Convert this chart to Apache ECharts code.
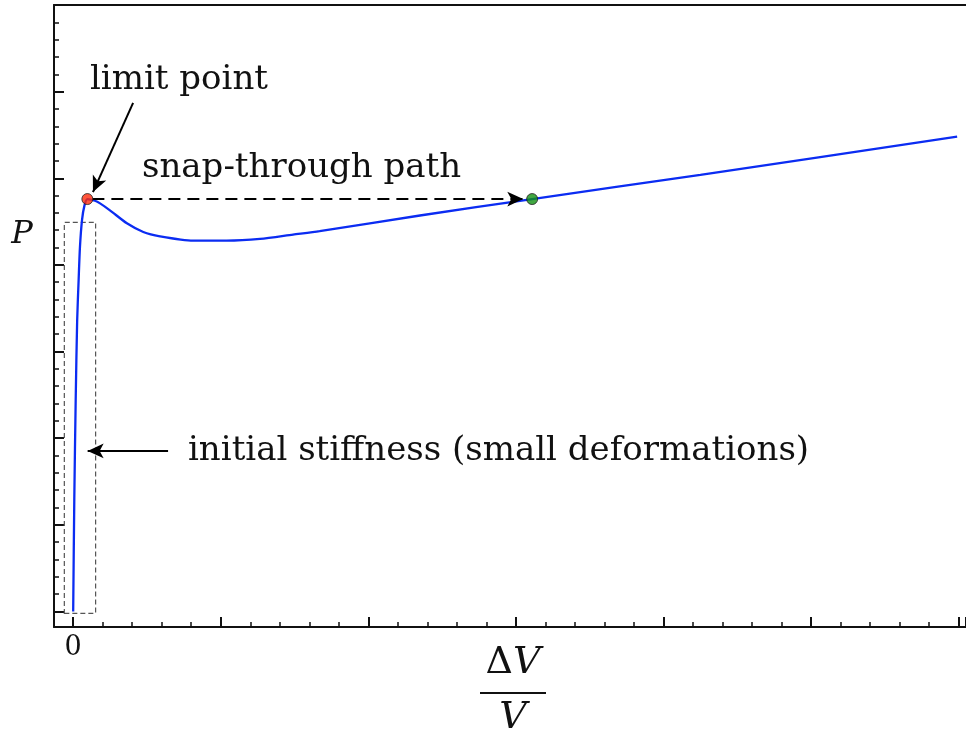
<!DOCTYPE html>
<html>
<head>
<meta charset="utf-8">
<script src="https://cdn.jsdelivr.net/npm/echarts@6/dist/echarts.min.js"></script>
<style>
  html, body { margin: 0; padding: 0; background: #ffffff; }
  #chart { width: 966px; height: 731px; }
</style>
</head>
<body>
<div id="chart"></div>
<script>
// Load P against volumetric strain ΔV/V for a structure that snaps through.
const strainValues = [0, 0.0075, 0.017, 0.027, 0.037, 0.046, 0.060, 0.077, 0.096,
  0.148, 0.182, 0.249, 0.364, 0.475, 0.588, 0.813, 1.04, 1.266, 1.49, 1.67,
  2.35, 3.11, 4.25, 5.99];
const loadValues = [0, 1.29, 2.44, 3.36, 3.83, 4.21, 4.52, 4.69, 4.76,
  4.74, 4.71, 4.63, 4.48, 4.38, 4.33, 4.28, 4.28, 4.30, 4.35, 4.39,
  4.57, 4.76, 5.04, 5.48];

// Limit point and the point the structure jumps to
const limitPoint = [0.096, 4.76];
const snapTarget = [3.11, 4.76];

// Annotation anchors (data coordinates)
const limitArrow = [[0.406, 5.87], [0.134, 4.84]];
const snapArrow = [[0.13, 4.76], [3.05, 4.76]];
const stiffnessArrow = [[0.643, 1.853], [0.098, 1.853]];
const smallDeformationBox = [[-0.060, -0.022], [0.152, 4.49]];

// Tick labels on the strain axis
const xTickValues = [0];
const xTickTexts = ['0'];

const SERIF = '"DejaVu Serif", "Liberation Serif", serif';
const INK = '#111111';

const curve = strainValues.map((x, i) => [x, loadValues[i]]);

const chart = echarts.init(document.getElementById('chart'), null, { renderer: 'canvas' });

const axisTickCommon = { show: true, inside: true, length: 10, lineStyle: { color: INK, width: 2 } };
const minorTickCommon = { show: true, splitNumber: 5, length: 5, lineStyle: { color: INK, width: 1.5 } };

chart.setOption({
  animation: false,
  backgroundColor: '#ffffff',
  grid: { left: 54, right: 0, top: 5, bottom: 104, containLabel: false },
  xAxis: [
    {
      type: 'value',
      min: -0.13,
      max: 6.05,
      splitNumber: 6,
      axisLine: { show: true, onZero: false, lineStyle: { color: INK, width: 2 } },
      axisTick: axisTickCommon,
      minorTick: minorTickCommon,
      splitLine: { show: false },
      axisLabel: {
        show: true,
        margin: 7,
        fontFamily: SERIF,
        fontSize: 27,
        color: INK,
        showMinLabel: false,
        showMaxLabel: false,
        formatter: (v) => {
          const k = xTickValues.indexOf(Math.round(v * 1000) / 1000);
          return k >= 0 ? xTickTexts[k] : '';
        }
      }
    },
    {
      // upper frame line
      type: 'value',
      position: 'top',
      min: -0.13,
      max: 6.05,
      axisLine: { show: true, onZero: false, lineStyle: { color: INK, width: 2 } },
      axisTick: { show: false },
      axisLabel: { show: false },
      splitLine: { show: false }
    }
  ],
  yAxis: {
    type: 'value',
    min: -0.18,
    max: 7,
    splitNumber: 7,
    axisLine: { show: true, onZero: false, lineStyle: { color: INK, width: 2 } },
    axisTick: axisTickCommon,
    minorTick: minorTickCommon,
    splitLine: { show: false },
    axisLabel: { show: false }
  },
  series: [
    {
      type: 'line',
      data: curve,
      showSymbol: false,
      smooth: 0.25,
      silent: true,
      z: 3,
      lineStyle: { color: '#0b2cf2', width: 2.3 },
      markArea: {
        silent: true,
        itemStyle: {
          color: 'rgba(0,0,0,0)',
          borderColor: '#555555',
          borderWidth: 1.2,
          borderType: [5, 3]
        },
        label: { show: false },
        data: [[{ coord: smallDeformationBox[0] }, { coord: smallDeformationBox[1] }]]
      },
      markLine: {
        silent: true,
        symbol: ['none', 'arrow'],
        symbolSize: [11, 16],
        label: { show: false },
        lineStyle: { color: '#000000', width: 2, type: 'solid' },
        emphasis: { disabled: true },
        data: [
          [{ coord: limitArrow[0] }, { coord: limitArrow[1] }],
          [{ coord: snapArrow[0], lineStyle: { type: [12, 7], width: 2, color: '#000000' } }, { coord: snapArrow[1] }],
          [{ coord: stiffnessArrow[0] }, { coord: stiffnessArrow[1] }]
        ]
      }
    },
    {
      type: 'scatter',
      silent: true,
      z: 5,
      symbolSize: 11,
      data: [
        { value: limitPoint, itemStyle: { color: '#ff2a0a', borderColor: '#222222', borderWidth: 1 } },
        { value: snapTarget, itemStyle: { color: '#129112', borderColor: '#222222', borderWidth: 1 } }
      ]
    }
  ],
  graphic: [
    {
      type: 'text', x: 90, y: 80, silent: true,
      style: { text: 'limit point', font: '34px ' + SERIF, fill: INK,
        textAlign: 'left', textVerticalAlign: 'middle', align: 'left', verticalAlign: 'middle' }
    },
    {
      type: 'text', x: 142, y: 168, silent: true,
      style: { text: 'snap-through path', font: '34px ' + SERIF, fill: INK,
        textAlign: 'left', textVerticalAlign: 'middle', align: 'left', verticalAlign: 'middle' }
    },
    {
      type: 'text', x: 188, y: 451, silent: true,
      style: { text: 'initial stiffness (small deformations)', font: '34px ' + SERIF, fill: INK,
        textAlign: 'left', textVerticalAlign: 'middle', align: 'left', verticalAlign: 'middle' }
    },
    {
      type: 'text', x: 22, y: 235, silent: true,
      style: { text: 'P', font: 'italic 32px ' + SERIF, fill: INK,
        textAlign: 'center', textVerticalAlign: 'middle', align: 'center', verticalAlign: 'middle' }
    },
    {
      type: 'text', x: 513, y: 663, silent: true,
      style: {
        text: '{d|Δ}{v|V}',
        textAlign: 'center', textVerticalAlign: 'middle', align: 'center', verticalAlign: 'middle',
        rich: {
          d: { font: '38px ' + SERIF, fill: INK, color: INK },
          v: { font: 'italic 38px ' + SERIF, fill: INK, color: INK }
        }
      }
    },
    {
      type: 'line', silent: true,
      shape: { x1: 480, y1: 693, x2: 546, y2: 693 },
      style: { stroke: INK, lineWidth: 2 }
    },
    {
      type: 'text', x: 513, y: 718, silent: true,
      style: { text: 'V', font: 'italic 38px ' + SERIF, fill: INK,
        textAlign: 'center', textVerticalAlign: 'middle', align: 'center', verticalAlign: 'middle' }
    }
  ]
});
</script>
</body>
</html>
